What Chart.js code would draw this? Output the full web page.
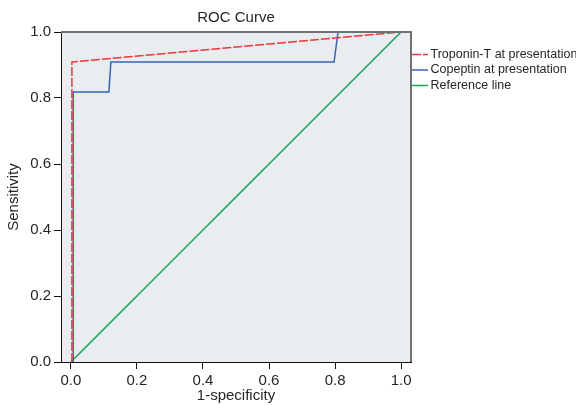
<!DOCTYPE html>
<html>
<head>
<meta charset="utf-8">
<script src="https://cdn.jsdelivr.net/npm/chart.js@4/dist/chart.umd.min.js"></script>
<style>
	html, body { margin: 0; padding: 0; background: #fff; }
	#chart { display: block; }
</style>
</head>
<body>
<div style="width:576px;height:405px;"><canvas id="chart" width="576" height="405"></canvas></div>
<script>
// ROC curve points (1-specificity, sensitivity)
const tropFpr = [0.003, 0.003, 1.0];
const tropTpr = [0.0, 0.909, 1.0];

const copFpr = [0.007, 0.007, 0.115, 0.121, 0.797, 0.809, 1.0];
const copTpr = [0.0, 0.818, 0.818, 0.909, 0.909, 1.0, 1.0];

const refFpr = [0.0, 1.0];
const refTpr = [0.0, 1.0];

const seriesNames = ['Troponin-T at presentation', 'Copeptin at presentation', 'Reference line'];
const tickValues = [0.0, 0.2, 0.4, 0.6, 0.8, 1.0];

const FONT = '"Liberation Sans", Arial, sans-serif';
const TEXT = '#262626';

function toPoints(xs, ys) {
	return xs.map((x, i) => ({ x: x, y: ys[i] }));
}

const frame = {
	id: 'frame',
	beforeDraw(chart) {
		const { ctx, chartArea: a } = chart;
		ctx.save();
		ctx.fillStyle = '#eaedf0';
		ctx.fillRect(a.left, a.top, a.right - a.left, a.bottom - a.top);
		ctx.restore();
	},
	afterDraw(chart) {
		const { ctx, chartArea: a } = chart;
		ctx.save();
		// top and right border
		ctx.strokeStyle = '#6e7272';
		ctx.lineWidth = 2;
		ctx.beginPath();
		ctx.moveTo(a.left, a.top);
		ctx.lineTo(a.right, a.top);
		ctx.lineTo(a.right, a.bottom);
		ctx.stroke();

		// titles
		ctx.fillStyle = TEXT;
		ctx.font = '15px ' + FONT;
		ctx.textAlign = 'center';
		ctx.textBaseline = 'middle';
		ctx.fillText('ROC Curve', (a.left + a.right) / 2, 18);
		ctx.fillText('1-specificity', (a.left + a.right) / 2, 396);
		ctx.save();
		ctx.translate(14, (a.top + a.bottom) / 2);
		ctx.rotate(-Math.PI / 2);
		ctx.fillText('Sensitivity', 0, 0);
		ctx.restore();

		// legend
		ctx.font = '12.5px ' + FONT;
		ctx.textAlign = 'left';
		chart.data.datasets.forEach((ds, i) => {
			const y = 54.5 + i * 15.5;
			ctx.strokeStyle = ds.borderColor;
			ctx.lineWidth = 1.5;
			ctx.setLineDash(ds.borderDash || []);
			ctx.beginPath();
			ctx.moveTo(412, y);
			ctx.lineTo(428, y);
			ctx.stroke();
			ctx.setLineDash([]);
			ctx.fillText(ds.label, 430.5, y);
		});
		ctx.restore();
	}
};

const axisCommon = {
	type: 'linear',
	grid: { drawOnChartArea: false, drawTicks: true, tickLength: 7, color: '#111' },
	border: { color: '#111', width: 1 },
	ticks: {
		color: TEXT,
		padding: 3,
		font: { family: FONT, size: 15 },
		callback: v => Number(v).toFixed(1)
	},
	afterBuildTicks: axis => { axis.ticks = tickValues.map(v => ({ value: v })); }
};

new Chart(document.getElementById('chart').getContext('2d'), {
	type: 'line',
	data: {
		datasets: [{
			label: seriesNames[0],
			data: toPoints(tropFpr, tropTpr),
			borderColor: '#e8383d',
			borderDash: [9, 2],
			borderWidth: 1.5
		}, {
			label: seriesNames[1],
			data: toPoints(copFpr, copTpr),
			borderColor: '#3a62b4',
			borderWidth: 1.5
		}, {
			label: seriesNames[2],
			data: toPoints(refFpr, refTpr),
			borderColor: '#1aa551',
			borderWidth: 1.5
		}]
	},
	options: {
		responsive: false,
		animation: false,
		elements: { point: { radius: 0 }, line: { tension: 0 } },
		layout: { padding: { top: 32, right: 165, left: 0, bottom: 0 } },
		plugins: {
			legend: { display: false },
			tooltip: { enabled: false }
		},
		scales: {
			x: Object.assign({}, axisCommon, {
				min: -0.03,
				max: 1.03,
				afterFit: s => { s.height = 43; }
			}),
			y: Object.assign({}, axisCommon, {
				min: 0,
				max: 1,
				afterFit: s => { s.width = 61; }
			})
		}
	},
	plugins: [frame]
});
</script>
</body>
</html>
